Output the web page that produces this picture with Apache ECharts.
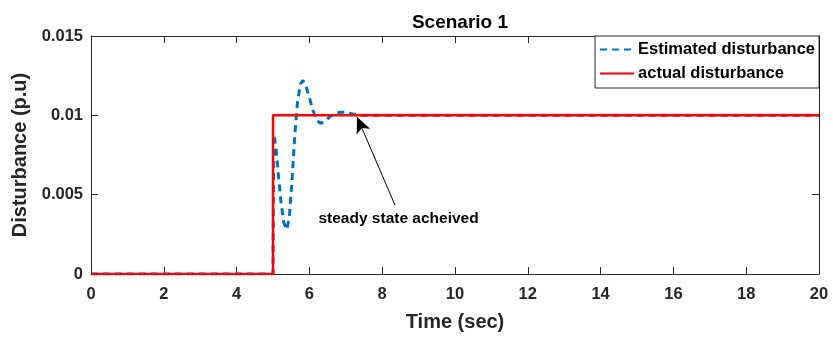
<!DOCTYPE html>
<html><head><meta charset="utf-8">
<script src="https://cdn.jsdelivr.net/npm/echarts@6/dist/echarts.min.js"></script>
<style>html,body{margin:0;padding:0;background:#fff}#c{width:833px;height:338px}</style>
</head><body><div id="c"></div>
<script>
const titleText = 'Scenario 1';
const xName = 'Time (sec)';
const yName = 'Disturbance (p.u)';
const seriesNames = ['Estimated disturbance', 'actual disturbance'];
// Estimated disturbance: [time, value]
const estimated = [
  [0,0],[5,0],[5.02,0.0088],[5.08,0.0080],[5.15,0.0062],[5.22,0.0045],[5.3,0.0032],[5.38,0.0028],
  [5.45,0.0036],[5.52,0.0058],[5.6,0.0088],[5.68,0.0110],[5.76,0.0120],[5.82,0.0122],[5.9,0.0119],
  [6.0,0.0111],[6.1,0.0103],[6.2,0.0097],[6.3,0.0095],[6.42,0.0096],[6.55,0.0099],[6.7,0.0101],
  [6.85,0.0102],[7.0,0.0102],[7.15,0.0101],[7.4,0.0100],[8,0.0100],[20,0.0100]
];
// Actual disturbance: step at t = 5
const actual = [[0,0],[5,0],[5,0.01],[20,0.01]];
const annotationText = 'steady state acheived';
const arrowFrom = [8.35, 0.00435];
const arrowTo = [7.31, 0.0099];
const textAt = [8.45, 0.0035];

const chart = echarts.init(document.getElementById('c'));
const F = 'Liberation Sans, Arial, sans-serif';
const axisCommon = {
  axisLine:{show:true,onZero:false,lineStyle:{color:'#262626',width:1}},
  axisTick:{show:true,inside:true,length:7,lineStyle:{color:'#262626'}},
  splitLine:{show:false}
};
chart.setOption({
  animation:false,
  title:{text:titleText,left:455,textAlign:'center',top:8,textStyle:{fontFamily:F,fontWeight:'bold',fontSize:19,color:'#000'}},
  grid:{left:91,right:14,top:36,bottom:64,show:false},
  legend:{
    data:seriesNames, orient:'vertical', right:14, top:36,
    backgroundColor:'#fff', borderColor:'#262626', borderWidth:1, borderRadius:0,
    padding:[5,4,6,4], itemGap:7, itemWidth:34, itemHeight:16,
    itemStyle:{opacity:0},
    textStyle:{fontFamily:F,fontWeight:'bold',fontSize:16.5,color:'#000',padding:[0,0,0,-1]}
  },
  xAxis:[
    Object.assign({type:'value',min:0,max:20,interval:2,name:xName,nameLocation:'middle',nameGap:38,
      nameTextStyle:{fontFamily:F,fontWeight:'bold',fontSize:20,color:'#262626'},
      axisLabel:{fontFamily:F,fontWeight:'bold',fontSize:16.5,color:'#262626',margin:12}},axisCommon),
    Object.assign({type:'value',min:0,max:20,interval:2,position:'top',axisLabel:{show:false}},axisCommon)
  ],
  yAxis:[
    Object.assign({type:'value',min:0,max:0.015,interval:0.005,name:yName,nameLocation:'middle',nameGap:59,
      nameTextStyle:{fontFamily:F,fontWeight:'bold',fontSize:20,color:'#262626'},
      axisLabel:{fontFamily:F,fontWeight:'bold',fontSize:16.5,color:'#262626',margin:8}},axisCommon),
    Object.assign({type:'value',min:0,max:0.015,interval:0.005,position:'right',axisLabel:{show:false}},axisCommon)
  ],
  series:[
    {name:seriesNames[0],type:'line',data:estimated,showSymbol:false,symbol:'none',
      lineStyle:{color:'#0072BD',width:3,type:[7,5]},itemStyle:{color:'#0072BD'},z:2},
    {name:seriesNames[1],type:'line',data:actual,showSymbol:false,symbol:'none',
      lineStyle:{color:'#FF0000',width:2.5},itemStyle:{color:'#FF0000'},z:3,
      markLine:{silent:true,symbol:['none','arrow'],symbolSize:[11,16],
        lineStyle:{color:'#000',width:1,type:'solid'},label:{show:false},
        data:[[{coord:arrowFrom},{coord:arrowTo}]]},
      markPoint:{silent:true,symbol:'circle',symbolSize:0,
        label:{show:true,formatter:annotationText,fontFamily:F,fontWeight:'bold',fontSize:15.5,color:'#000',position:'inside'},
        data:[{coord:textAt}]}
    }
  ]
});
</script></body></html>
